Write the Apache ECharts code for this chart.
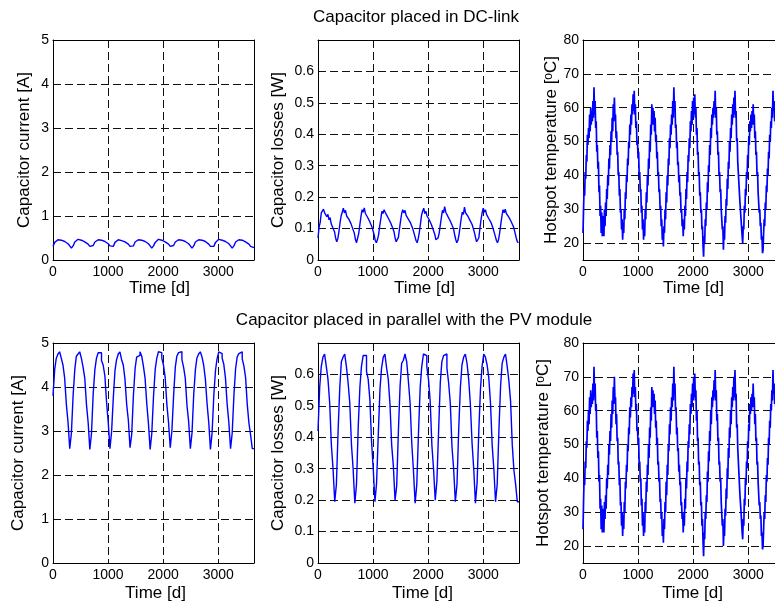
<!DOCTYPE html>
<html><head><meta charset="utf-8">
<script src="https://cdn.jsdelivr.net/npm/echarts@6/dist/echarts.min.js"></script>
<style>html,body{margin:0;padding:0;background:#fff}#c{width:775px;height:602px}</style>
</head><body><div id="c"></div>
<script>
const FONT = "'Liberation Sans', Arial, Helvetica, sans-serif";

// ---------- DATA ----------
const daysPerYear = 365;
const monthStartDays = [0,31,59,90,120,151,181,212,243,273,304,334];
const timeTicks = [0,1000,2000,3000];
const timeMax = 3650;
const lossStepDays = 20;   // sampling of DC-link losses
const tempStepDays = 10;   // sampling of hotspot temperatures

const rowTitles = ['Capacitor placed in DC-link', 'Capacitor placed in parallel with the PV module'];
const yNames = ['Capacitor current [A]', 'Capacitor losses [W]', 'Hotspot temperature [{sup|o}C]'];
const xName = 'Time [d]';

// DC-link: capacitor current, monthly (10 years + end point)
const dcCurrent = [
0.31,0.40,0.44,0.46,0.46,0.45,0.43,0.42,0.40,0.37,0.32,0.27,
0.32,0.41,0.45,0.47,0.46,0.45,0.43,0.41,0.40,0.36,0.31,0.27,
0.33,0.41,0.44,0.46,0.47,0.45,0.44,0.42,0.40,0.37,0.32,0.28,
0.31,0.40,0.44,0.46,0.46,0.44,0.43,0.41,0.39,0.36,0.31,0.27,
0.32,0.41,0.45,0.46,0.47,0.45,0.43,0.42,0.40,0.37,0.32,0.27,
0.32,0.40,0.44,0.47,0.46,0.45,0.43,0.41,0.40,0.36,0.31,0.28,
0.33,0.41,0.45,0.46,0.47,0.45,0.44,0.42,0.40,0.37,0.32,0.27,
0.32,0.41,0.44,0.46,0.47,0.45,0.43,0.42,0.39,0.36,0.31,0.27,
0.31,0.40,0.44,0.47,0.46,0.45,0.44,0.42,0.40,0.37,0.32,0.27,
0.32,0.41,0.45,0.46,0.47,0.45,0.43,0.41,0.40,0.36,0.31,0.27,
0.28];

// DC-link: capacitor losses, every 20 days
const dcLosses = [
0.07,0.105,0.12,0.15,0.148,0.162,0.15,0.155,0.138,0.145,0.128,0.135,0.115,0.118,0.098,0.09,0.07,0.058,0.068,
0.09,0.118,0.14,0.152,0.165,0.15,0.158,0.14,0.146,0.13,0.132,0.115,0.112,0.095,0.085,0.065,0.055,0.07,
0.085,0.112,0.138,0.16,0.152,0.166,0.148,0.15,0.136,0.14,0.122,0.125,0.105,0.1,0.08,0.062,0.055,0.065,
0.08,0.108,0.13,0.155,0.148,0.16,0.152,0.145,0.15,0.132,0.136,0.118,0.12,0.1,0.09,0.07,0.058,0.056,
0.072,0.1,0.125,0.148,0.16,0.15,0.158,0.142,0.148,0.13,0.134,0.118,0.115,0.1,0.095,0.075,0.062,0.055,0.068,
0.088,0.115,0.142,0.155,0.165,0.148,0.155,0.14,0.145,0.128,0.13,0.112,0.11,0.092,0.082,0.065,0.06,0.07,
0.085,0.11,0.135,0.158,0.15,0.17,0.152,0.155,0.138,0.142,0.125,0.128,0.108,0.1,0.082,0.066,0.055,0.062,
0.08,0.105,0.132,0.152,0.145,0.168,0.15,0.152,0.14,0.142,0.126,0.13,0.112,0.108,0.088,0.072,0.058,0.055,
0.07,0.1,0.128,0.15,0.165,0.152,0.16,0.145,0.15,0.132,0.136,0.12,0.118,0.1,0.094,0.075,0.062,0.055,0.066,
0.088,0.115,0.14,0.16,0.15,0.162,0.148,0.152,0.138,0.14,0.125,0.128,0.11,0.1,0.085,0.07,0.058,0.055];

// DC-link: hotspot temperature, every 10 days
const dcTemp = [
23,30,36,34,41,39,46,44,52,49,54,51,58,53,60,55,59,56,62,57,66,58,62,54,56,47,49,42,44,35,37,28,31,23,29,22,28,
26,22,30,25,32,28,36,33,40,37,45,42,49,46,53,50,57,53,61,56,63,57,58,51,53,46,47,40,41,34,36,29,30,24,27,21,26,
23,30,27,35,33,40,38,45,43,50,48,55,52,58,55,61,58,64,59,65,58,61,54,56,49,50,45,47,40,41,35,36,29,31,24,27,21,
25,22,30,27,35,32,40,37,45,42,50,47,55,52,61,55,60,55,59,53,57,50,52,45,47,40,41,35,36,30,31,25,27,21,24,19,25,
23,30,27,35,32,40,37,45,43,51,48,55,52,58,55,62,57,66,59,62,54,55,48,50,43,44,38,40,34,35,29,30,25,27,22,26,24,
31,28,36,33,41,38,46,44,51,48,56,53,59,55,62,57,63,58,64,57,60,52,54,46,47,40,41,34,35,29,30,24,25,19,16,22,20,
27,25,32,30,38,35,43,41,49,46,54,51,58,55,60,57,62,58,65,57,60,52,53,46,47,40,41,35,36,30,30,24,25,18,23,21,28,
26,33,31,39,36,44,42,50,47,54,51,58,55,61,57,63,58,65,57,59,50,51,44,44,38,38,32,32,27,27,22,20,25,24,31,29,36,
34,41,39,46,44,51,49,56,53,58,54,59,55,61,55,58,51,53,46,47,40,41,35,35,29,30,25,26,21,22,17,18,23,27,25,32,30,
37,35,42,40,47,45,52,50,56,54,60,57,65,59,62,56,60,55,58,52,54,47,48,42,43,37,38,32,33,28,29,24,26];

// PV module: capacitor current, monthly steps
const pvCurrent = [
3.8,4.4,4.65,4.75,4.8,4.65,4.5,4.2,3.6,3.2,2.6,2.95,
3.8,4.4,4.7,4.75,4.8,4.65,4.45,4.2,3.6,3.2,2.58,2.95,
3.85,4.4,4.65,4.78,4.78,4.6,4.5,4.25,3.65,3.2,2.6,2.98,
3.75,4.38,4.62,4.75,4.8,4.62,4.5,4.18,3.6,3.25,2.62,2.92,
3.8,4.42,4.68,4.72,4.8,4.7,4.48,4.2,3.62,3.18,2.58,2.95,
3.78,4.4,4.65,4.8,4.78,4.65,4.5,4.22,3.6,3.2,2.62,3.0,
3.8,4.45,4.7,4.78,4.8,4.62,4.45,4.2,3.58,3.22,2.6,2.95,
3.82,4.4,4.66,4.75,4.8,4.68,4.5,4.18,3.62,3.2,2.58,2.96,
3.8,4.38,4.64,4.8,4.76,4.66,4.52,4.2,3.6,3.2,2.6,2.95,
3.8,4.42,4.68,4.76,4.8,4.64,4.48,4.22,3.6,3.18,2.9,2.6,
2.6];

// PV module: capacitor losses, monthly steps
const pvLosses = [
0.42,0.56,0.625,0.655,0.665,0.625,0.585,0.51,0.375,0.3,0.195,0.25,
0.42,0.56,0.64,0.655,0.665,0.625,0.575,0.51,0.375,0.3,0.19,0.25,
0.43,0.56,0.625,0.66,0.66,0.61,0.585,0.52,0.385,0.3,0.195,0.255,
0.41,0.555,0.62,0.655,0.665,0.62,0.585,0.505,0.375,0.31,0.2,0.245,
0.42,0.565,0.635,0.645,0.665,0.64,0.58,0.51,0.38,0.295,0.19,0.25,
0.415,0.56,0.625,0.665,0.66,0.625,0.585,0.515,0.375,0.3,0.2,0.26,
0.42,0.575,0.64,0.66,0.665,0.62,0.575,0.51,0.37,0.3,0.195,0.25,
0.425,0.56,0.63,0.655,0.665,0.635,0.585,0.505,0.38,0.3,0.19,0.255,
0.42,0.555,0.625,0.665,0.655,0.63,0.59,0.51,0.375,0.3,0.195,0.25,
0.42,0.565,0.635,0.655,0.665,0.625,0.58,0.515,0.375,0.295,0.25,0.195,
0.195];

// PV module: hotspot temperature, every 10 days
const pvTemp = [
25,33,40,38,45,43,51,49,57,54,60,56,64,59,66,61,65,62,68,63,73,64,68,60,62,52,54,46,48,39,41,31,34,25,32,24,31,
29,24,33,28,35,31,40,37,44,41,50,47,54,51,59,55,63,59,67,62,70,63,64,56,59,51,52,44,45,38,40,32,33,26,30,23,29,
25,33,30,39,37,44,42,50,48,55,53,61,58,64,61,67,64,71,65,72,64,67,60,62,54,55,50,52,44,45,39,40,32,34,26,30,23,
28,24,33,30,39,36,44,41,50,46,55,52,61,57,67,61,66,61,65,59,63,55,57,50,52,44,45,39,40,33,34,28,30,23,26,21,28,
25,33,30,39,35,44,41,50,48,56,53,61,57,64,61,68,63,73,65,68,60,61,53,55,48,49,42,44,38,39,32,33,28,30,24,29,26,
34,31,40,37,45,42,51,49,56,53,62,59,65,61,68,63,70,64,71,63,66,57,60,51,52,44,45,38,39,32,33,26,28,21,17,24,22,
30,28,35,33,42,39,48,45,54,51,60,56,64,61,66,63,69,64,72,63,66,57,59,51,52,44,45,39,40,33,33,26,28,20,25,23,31,
29,37,34,43,40,49,46,55,52,60,56,64,61,67,63,70,64,72,63,65,55,56,49,49,42,42,35,35,30,30,24,22,28,26,34,32,40,
38,45,43,51,49,56,54,62,59,64,60,65,61,68,61,64,56,59,51,52,44,45,39,39,32,33,28,29,23,24,19,20,25,30,28,35,33,
41,39,46,44,52,50,57,55,62,60,66,63,72,65,68,62,66,61,64,57,60,52,53,46,47,41,42,35,36,31,32,26,29];

// ---------- BUILD ----------
function monthly(vals){ return vals.map((v,i)=>[Math.floor(i/12)*daysPerYear + monthStartDays[i%12], v]); }
function sampled(vals, step){ return vals.map((v,i)=>[i*step, v]); }

const fmtInt = v => (Math.abs(v - Math.round(v)) < 1e-9 ? String(Math.round(v)) : '');
const fmtLoss = v => (v > 0.65 ? '' : (v === 0 ? '0' : v.toFixed(1)));
const fmtTemp = v => (v % 10 === 0 ? String(v) : '');
const fmtTime = v => (timeTicks.indexOf(v) >= 0 ? String(v) : '');

const W = 201, H = 220;
const panels = [
  {left:53,  top:40,  yName:0, gap:20, xShift:6,  xGap:17, y:{min:0, max:5, interval:1}, fmt:fmtInt,  data:monthly(dcCurrent), step:false, lw:1.4},
  {left:318, top:40,  yName:1, gap:31, xShift:6,  xGap:17, y:{min:0, max:0.7, interval:0.1}, fmt:fmtLoss, data:sampled(dcLosses, lossStepDays), step:false, lw:1.4},
  {left:583, top:40,  yName:2, gap:23, xShift:10, xGap:17, y:{min:15, max:80, splitNumber:7}, fmt:fmtTemp, data:sampled(dcTemp, tempStepDays), step:false, lw:1.7},
  {left:53,  top:343, yName:0, gap:26, xShift:2,  xGap:22, y:{min:0, max:5, interval:1}, fmt:fmtInt,  data:monthly(pvCurrent), step:'end', lw:1.4},
  {left:318, top:343, yName:1, gap:31, xShift:4,  xGap:22, y:{min:0, max:0.7, interval:0.1}, fmt:fmtLoss, data:monthly(pvLosses), step:'end', lw:1.4},
  {left:583, top:343, yName:2, gap:31, xShift:9,  xGap:22, y:{min:15, max:80, splitNumber:7}, fmt:fmtTemp, data:sampled(pvTemp, tempStepDays), step:false, lw:1.7}
];

const black = '#000';
const dash = {show:true, lineStyle:{color:'#111', width:1, type:[8,4]}};
const grid = [], xAxis = [], yAxis = [], series = [];
panels.forEach((p,i)=>{
  grid.push({left:p.left, top:p.top, width:W, height:H, containLabel:false, outerBoundsMode:'none'});
  xAxis.push({
    type:'value', gridIndex:i, min:0, max:timeMax, interval:1000,
    axisLine:{show:true, onZero:false, lineStyle:{color:black, width:1}},
    axisTick:{show:false},
    axisLabel:{color:black, fontSize:14, fontFamily:FONT, margin:5, formatter:fmtTime, showMaxLabel:true},
    splitLine:dash,
    name:xName, nameLocation:'middle', nameGap:p.xGap,
    nameTextStyle:{color:black, fontSize:17, fontFamily:FONT, padding:[0,0,0,2*p.xShift]}
  });
  xAxis.push({
    type:'value', gridIndex:i, position:'top', min:0, max:timeMax,
    axisLine:{show:true, onZero:false, lineStyle:{color:black, width:1}},
    axisTick:{show:false}, axisLabel:{show:false}, splitLine:{show:false}
  });
  const yBase = Object.assign({type:'value', gridIndex:i}, p.y);
  yAxis.push(Object.assign({}, yBase, {
    position:'left',
    axisLine:{show:true, onZero:false, lineStyle:{color:black, width:1}},
    axisTick:{show:false},
    axisLabel:{color:black, fontSize:14, fontFamily:FONT, margin:4, formatter:p.fmt},
    splitLine:dash,
    name:yNames[p.yName], nameLocation:'middle', nameGap:p.gap, nameRotate:90,
    nameTextStyle:{color:black, fontSize:17, fontFamily:FONT,
      rich:{sup:{fontSize:12, fontFamily:FONT, color:black, verticalAlign:'top', lineHeight:17}}}
  }));
  yAxis.push(Object.assign({}, yBase, {
    position:'right',
    axisLine:{show:true, onZero:false, lineStyle:{color:black, width:1}},
    axisTick:{show:false}, axisLabel:{show:false}, splitLine:{show:false}
  }));
  series.push({
    type:'line', xAxisIndex:2*i, yAxisIndex:2*i, data:p.data, step:p.step,
    showSymbol:false, symbol:'none', clip:true,
    lineStyle:{color:'#0000ff', width:p.lw}
  });
});

const chart = echarts.init(document.getElementById('c'), null, {renderer:'canvas'});
chart.setOption({
  animation:false,
  backgroundColor:'#fff',
  grid, xAxis, yAxis, series,
  graphic:[
    {type:'text', x:416, y:17, style:{text:rowTitles[0], fontSize:17, fontFamily:FONT, fill:black, align:'center', verticalAlign:'middle'}},
    {type:'text', x:414, y:320, style:{text:rowTitles[1], fontSize:17, fontFamily:FONT, fill:black, align:'center', verticalAlign:'middle'}}
  ]
});
</script></body></html>
